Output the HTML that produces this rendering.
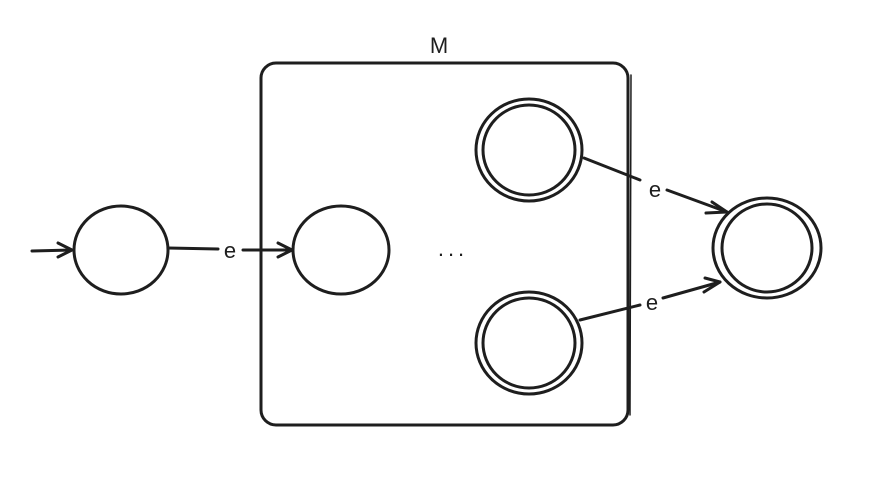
<!DOCTYPE html>
<html><head><style>body{margin:0;background:#fff}svg{display:block}</style></head>
<body>
<svg width="890" height="482" viewBox="0 0 890 482" xmlns="http://www.w3.org/2000/svg">
<g fill="none" stroke="#1e1e1e" stroke-width="3" stroke-linecap="round" stroke-linejoin="round">
<rect x="261" y="63" width="367" height="362" rx="15"/>
<path d="M631 75 L630 415" stroke-width="1.5"/>
<path d="M32 251 L72 250"/><path d="M58 243 L72 250 L58 257"/>
<ellipse cx="121" cy="250" rx="47" ry="44"/>
<path d="M168 248 L218 249"/><path d="M243 250 L292 250"/><path d="M278 243 L292 250 L278 257"/>
<ellipse cx="341" cy="250" rx="48" ry="44"/>
<ellipse cx="529" cy="150" rx="53" ry="51"/>
<ellipse cx="529" cy="150" rx="46" ry="45"/>
<ellipse cx="529" cy="343" rx="53" ry="51"/>
<ellipse cx="529" cy="343" rx="46" ry="45"/>
<ellipse cx="767" cy="248" rx="54" ry="50"/>
<ellipse cx="767" cy="248" rx="45" ry="44"/>
<path d="M584 158 L640 180"/><path d="M667 190 L727 212"/><path d="M706 213 L727 212 L712 202"/>
<path d="M580 320 L640 305"/><path d="M663 298 L720 282"/><path d="M705 278 L720 282 L704 292"/>
</g>
<g font-family="Liberation Sans, sans-serif" font-size="22" fill="#1e1e1e" text-anchor="middle">
<text x="439" y="53">M</text>
<text x="230" y="258">e</text>
<text x="655" y="197">e</text>
<text x="652" y="310">e</text>
<text x="453" y="256" letter-spacing="4">...</text>
</g>
</svg>
</body></html>
